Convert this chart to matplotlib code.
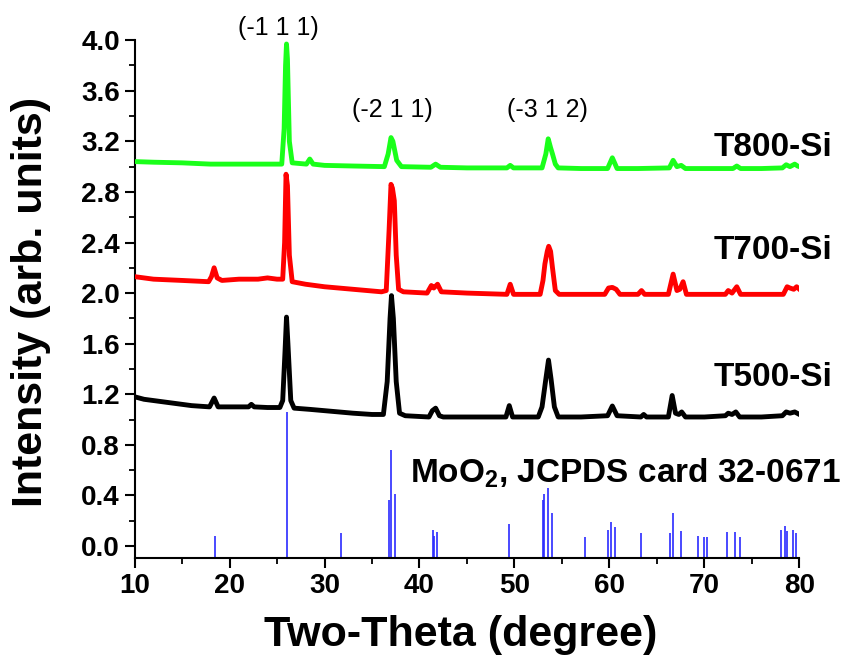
import matplotlib
matplotlib.use("Agg")
import matplotlib.pyplot as plt
from matplotlib.ticker import MultipleLocator

plt.rcParams['font.family'] = ['Liberation Sans', 'DejaVu Sans']
plt.rcParams['mathtext.fontset'] = 'custom'
plt.rcParams['mathtext.bf'] = 'Liberation Sans:bold'
plt.rcParams['mathtext.rm'] = 'Liberation Sans:bold'

# ---- data ----
t800_x = [10, 12, 15, 18, 20, 22, 24, 25.5, 25.75, 25.9, 26.0, 26.1, 26.3, 26.6, 28.1, 28.45, 28.8,
          30, 33, 36.3, 36.7, 37.0, 37.2, 37.6, 38.1, 41.2, 41.7, 42.2, 45, 49.2, 49.55, 49.9,
          52.9, 53.3, 53.55, 53.8, 54.0, 54.3, 54.6, 57, 59.8, 60.3, 60.8, 63, 66.3, 66.7, 67.1,
          67.55, 68, 70, 73, 73.4, 73.8, 76, 78.2, 78.6, 79.0, 79.5, 79.8, 80]
t800_y = [3.04, 3.035, 3.03, 3.02, 3.02, 3.02, 3.02, 3.02, 3.3, 3.8, 3.97, 3.85, 3.2, 3.03, 3.02, 3.06, 3.02,
          3.01, 3.005, 3.0, 3.1, 3.23, 3.2, 3.05, 3.0, 2.995, 3.02, 2.995, 2.99, 2.99, 3.01, 2.99,
          2.99, 3.1, 3.22, 3.15, 3.10, 3.02, 2.99, 2.985, 2.985, 3.07, 2.985, 2.985, 2.99, 3.05, 3.0,
          3.01, 2.985, 2.985, 2.985, 3.005, 2.985, 2.985, 2.99, 3.015, 3.0, 3.02, 3.005, 3.0]

t700_x = [10, 12, 15, 17.8, 18.1, 18.38, 18.7, 19.2, 21, 23, 24, 25, 25.6, 25.8, 25.95, 26.1, 26.3, 26.6,
          28, 30, 33, 36, 36.5, 36.8, 37.0, 37.15, 37.35, 37.55, 37.8, 38.3, 40.8, 41.25, 41.5, 41.9,
          42.3, 45, 49.2, 49.55, 49.9, 52.7, 53.0, 53.2, 53.45, 53.6, 53.8, 54.0, 54.3, 54.7, 57, 59.5,
          59.9, 60.3, 60.7, 61.1, 63.0, 63.37, 63.7, 66.2, 66.7, 67.1, 67.4, 67.75, 68.1, 70, 72.2,
          72.5, 72.9, 73.4, 73.8, 76, 78.3, 78.7, 79.0, 79.4, 79.7, 80]
t700_y = [2.13, 2.11, 2.10, 2.09, 2.13, 2.20, 2.12, 2.10, 2.11, 2.11, 2.12, 2.11, 2.11, 2.4, 2.94, 2.85, 2.3, 2.09,
          2.07, 2.05, 2.03, 2.01, 2.02, 2.5, 2.86, 2.83, 2.73, 2.3, 2.03, 2.01, 2.0, 2.06, 2.04, 2.07,
          2.01, 2.0, 1.99, 2.07, 1.99, 1.99, 2.1, 2.23, 2.33, 2.37, 2.33, 2.2, 2.02, 1.99, 1.99, 1.99,
          2.04, 2.045, 2.03, 1.99, 1.99, 2.02, 1.99, 1.99, 2.15, 2.02, 2.03, 2.09, 1.99, 1.99, 1.99,
          2.02, 2.0, 2.05, 1.99, 1.99, 1.99, 2.05, 2.04, 2.03, 2.05, 2.03]

t500_x = [10, 11, 12, 14, 16, 17.9, 18.38, 18.8, 20, 22, 22.3, 22.6, 24, 25.3, 25.6, 25.85, 26.0, 26.15,
          26.45, 26.8, 28.5, 30, 33, 35, 36.2, 36.6, 36.9, 37.05, 37.25, 37.55, 37.9, 38.5, 41.0, 41.35,
          41.7, 42.1, 42.5, 45, 49.1, 49.45, 49.8, 52.5, 52.9, 53.3, 53.58, 53.85, 54.2, 54.6, 57, 59.8,
          60.3, 60.8, 63.3, 63.6, 63.9, 66.2, 66.6, 66.95, 67.3, 67.6, 68.0, 70, 72.2, 72.5, 72.9, 73.3,
          73.7, 76, 78.2, 78.6, 79.0, 79.5, 80]
t500_y = [1.18, 1.16, 1.15, 1.13, 1.11, 1.10, 1.17, 1.10, 1.10, 1.10, 1.12, 1.10, 1.095, 1.095, 1.15, 1.55, 1.81, 1.6,
          1.15, 1.09, 1.08, 1.07, 1.05, 1.04, 1.04, 1.3, 1.8, 1.98, 1.8, 1.3, 1.05, 1.03, 1.02, 1.07,
          1.09, 1.03, 1.02, 1.02, 1.02, 1.11, 1.02, 1.02, 1.1, 1.32, 1.47, 1.32, 1.1, 1.02, 1.02, 1.03,
          1.107, 1.03, 1.02, 1.04, 1.02, 1.02, 1.19, 1.05, 1.04, 1.06, 1.02, 1.02, 1.03, 1.05, 1.04, 1.06,
          1.02, 1.02, 1.03, 1.06, 1.05, 1.06, 1.04]

card_pos = [18.48, 26.05, 31.75, 36.77, 37.01, 37.40, 41.37, 41.54, 41.85, 49.47, 53.05, 53.12, 53.54,
            53.93, 57.40, 59.82, 60.20, 60.59, 63.37, 66.42, 66.66, 67.58, 69.30, 69.90, 70.30, 72.40,
            73.26, 73.79, 78.10, 78.48, 78.70, 79.30, 79.68]
card_int = [0.08, 1.057, 0.10, 0.36, 0.76, 0.41, 0.126, 0.08, 0.11, 0.17, 0.36, 0.41, 0.46,
            0.26, 0.07, 0.13, 0.19, 0.15, 0.10, 0.10, 0.26, 0.115, 0.08, 0.07, 0.07, 0.11,
            0.11, 0.07, 0.13, 0.16, 0.12, 0.13, 0.10]

peak_labels = ['(-1 1 1)', '(-2 1 1)', '(-3 1 2)']
peak_label_x = [25.1, 37.1, 53.5]
peak_label_y = [4.10, 3.45, 3.45]
series_names = ['T800-Si', 'T700-Si', 'T500-Si']
series_label_y = [3.15, 2.34, 1.33]
yticks = [0.0, 0.4, 0.8, 1.2, 1.6, 2.0, 2.4, 2.8, 3.2, 3.6, 4.0]

# ---- figure ----
fig = plt.figure(figsize=(8.46, 6.59), dpi=100)
ax = fig.add_axes([0.159, 0.1533, 0.786, 0.7857])
ymin = -0.095
ax.set_xlim(10, 80)
ax.set_ylim(ymin, 4.0)

ax.vlines(card_pos, ymin, card_int, colors='#2a2aff', linewidth=1.2, zorder=2)
ax.plot(t500_x, t500_y, color='black', linewidth=3.5, solid_joinstyle='round', zorder=3)
ax.plot(t700_x, t700_y, color='#ff0000', linewidth=3.5, solid_joinstyle='round', zorder=3)
ax.plot(t800_x, t800_y, color='#1aff1a', linewidth=3.5, solid_joinstyle='round', zorder=3)

for lab, lx, ly in zip(peak_labels, peak_label_x, peak_label_y):
    ax.text(lx, ly, lab, ha='center', va='center', fontsize=18, clip_on=False)
for name, ly in zip(series_names, series_label_y):
    ax.text(71.0, ly, name, ha='left', va='center', fontsize=24, fontweight='bold', clip_on=False)
ax.text(39.0, 0.50, r'MoO$_\mathbf{2}$, JCPDS card 32-0671', ha='left', va='baseline',
        fontsize=24, fontweight='bold', clip_on=False)

for s in ['top', 'right']:
    ax.spines[s].set_visible(False)
for s in ['left', 'bottom']:
    ax.spines[s].set_linewidth(1.5)

ax.xaxis.set_major_locator(MultipleLocator(10))
ax.xaxis.set_minor_locator(MultipleLocator(5))
ax.yaxis.set_minor_locator(MultipleLocator(0.2))
ax.set_yticks(yticks)
ax.set_yticklabels([f'{v:.1f}' for v in yticks])
ax.tick_params(which='major', direction='out', length=7, width=1.5, labelsize=20)
ax.tick_params(which='minor', direction='out', length=4, width=1.3)
for lbl in ax.get_xticklabels() + ax.get_yticklabels():
    lbl.set_fontweight('bold')

fig.text(461 / 846, 1 - 635 / 659, 'Two-Theta (degree)', ha='center', va='center',
         fontsize=31, fontweight='bold')
fig.text(31 / 846, 1 - 302 / 659, 'Intensity (arb. units)', ha='center', va='center',
         rotation=90, fontsize=31, fontweight='bold')

fig.savefig('out.png', dpi=100)
